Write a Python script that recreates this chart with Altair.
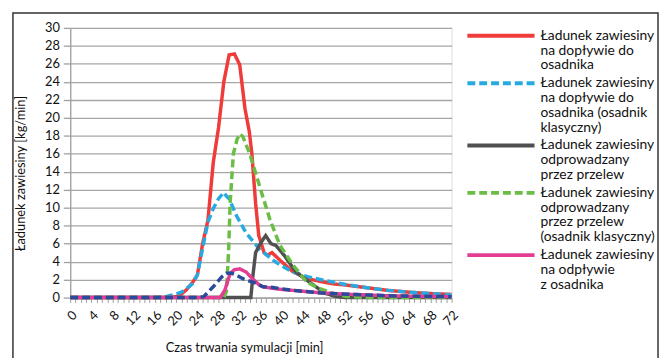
import altair as alt
import pandas as pd

# ---- data ----
labels = [
    "Ładunek zawiesiny\nna dopływie do\nosadnika",
    "Ładunek zawiesiny\nna dopływie do\nosadnika (osadnik\nklasyczny)",
    "Ładunek zawiesiny\nodprowadzany\nprzez przelew",
    "Ładunek zawiesiny\nodprowadzany\nprzez przelew\n(osadnik klasyczny)",
    "Ładunek zawiesiny\nna odpływie\nz osadnika",
]
colors = ["#EF3B39", "#27AAE1", "#505050", "#6ABD45", "#E33D94"]
dashes = [[1, 0], [8, 4], [1, 0], [8, 4], [1, 0]]

red_t = [0, 18, 20, 21, 22, 23, 24, 25, 26, 27, 28, 29, 30, 31, 32, 33, 33.8, 34.3, 35, 35.6, 36.6, 37.2, 38.1, 39.7, 42, 44, 46, 48, 50, 52, 56, 60, 64, 68, 72]
red_v = [0, 0, 0.1, 0.4, 0.9, 1.6, 2.5, 6.0, 8.6, 15.0, 18.9, 24.0, 27.0, 27.1, 25.9, 21.0, 18.5, 16.0, 10.5, 6.9, 5.0, 4.7, 5.0, 4.1, 2.9, 2.3, 1.95, 1.7, 1.5, 1.4, 1.1, 0.8, 0.6, 0.45, 0.35]

lblue_t = [0, 16, 18, 20, 21, 22, 23, 24, 25, 26, 27, 28, 29, 29.5, 30, 31.4, 33.2, 35.7, 38.8, 41.9, 45, 49.4, 52, 56, 60, 64, 68, 72]
lblue_v = [0, 0, 0.1, 0.4, 0.6, 1.0, 1.5, 2.5, 5.5, 8.4, 9.9, 11.0, 11.7, 11.3, 11.0, 9.1, 7.2, 5.4, 3.95, 2.85, 2.3, 1.75, 1.45, 1.1, 0.8, 0.6, 0.45, 0.3]

gray_t = [0, 34.1, 34.5, 35, 36, 36.9, 37.9, 38.8, 40.4, 42.6, 45.1, 46.4, 48, 50, 52, 72]
gray_v = [0, 0, 2.5, 5.0, 6.1, 6.9, 6.0, 5.8, 4.7, 2.85, 1.75, 1.2, 0.5, 0.15, 0, 0]

green_t = [0, 29, 29.5, 29.9, 30.2, 30.8, 31.5, 32, 32.6, 33.9, 35.8, 37.7, 39.6, 42.1, 44.6, 47.1, 49.6, 52, 56, 72]
green_v = [0, 0, 0.7, 5.1, 10.6, 16.0, 17.6, 18.2, 17.9, 16.0, 12.3, 8.7, 5.8, 3.6, 1.75, 1.0, 0.47, 0.15, 0, 0]

pink_t = [0, 28.3, 29.2, 30.2, 31, 32, 33.2, 34.4, 35.7, 36.4, 38, 40, 42, 44, 48, 52, 56, 60, 64, 68, 72]
pink_v = [0, 0, 0.84, 2.7, 3.1, 3.2, 2.85, 2.1, 1.4, 1.2, 1.05, 0.9, 0.8, 0.7, 0.5, 0.38, 0.3, 0.2, 0.15, 0.12, 0.1]

dblue_t = [0, 24, 25.2, 26, 27, 28, 28.6, 29.5, 30.5, 31.4, 32.6, 33.3, 34, 35.1, 36.4, 38.3, 40, 41.9, 44, 47.6, 49.4, 53.8, 60, 64, 68, 72]
dblue_v = [0, 0, 0.1, 0.6, 1.2, 1.9, 2.3, 2.7, 2.7, 2.5, 2.1, 1.94, 1.8, 1.6, 1.2, 1.13, 0.95, 0.83, 0.7, 0.5, 0.45, 0.35, 0.2, 0.17, 0.13, 0.1]
dblue_color = "#2A4B9B"

x_title = "Czas trwania symulacji [min]"
y_title = "Ładunek zawiesiny [kg/min]"

series = [(red_t, red_v), (lblue_t, lblue_v), (gray_t, gray_v), (green_t, green_v), (pink_t, pink_v)]

FONT = "Lato"
W, H = 386, 273
TOTAL_W, TOTAL_H = 660, 350

rows = []
for lab, (ts, vs) in zip(labels, series):
    for i, (t, v) in enumerate(zip(ts, vs)):
        rows.append({"series": lab, "t": t, "v": v, "o": i})
df = pd.DataFrame(rows)
df_db = pd.DataFrame({"t": dblue_t, "v": dblue_v, "o": list(range(len(dblue_t)))})

x_enc = alt.X(
    "t:Q",
    scale=alt.Scale(domain=[0, 72], nice=False, zero=False),
    axis=alt.Axis(
        title=x_title,
        values=list(range(0, 73)),
        labelExpr="datum.value % 4 === 0 ? datum.label : ''",
        labelOverlap=False,
        labelAngle=-45,
        labelFont=FONT, labelFontSize=13, labelColor="#111", labelPadding=6,
        tickColor="#A0A0A0", tickSize=5, tickWidth=1,
        domainColor="#A0A0A0", domainWidth=1.3,
        grid=False,
        titleFont=FONT, titleFontSize=13, titleFontWeight="normal", titleColor="#111",
        titleX=176, titleY=55, titleBaseline="alphabetic",
    ),
)
y_enc = alt.Y(
    "v:Q",
    scale=alt.Scale(domain=[0, 30], nice=False),
    axis=alt.Axis(
        title=y_title,
        values=list(range(0, 31, 2)),
        labelFont=FONT, labelFontSize=13, labelColor="#111", labelPadding=4,
        tickColor="#A0A0A0", tickSize=7, tickWidth=1.3,
        domainColor="#A0A0A0", domainWidth=1.3,
        grid=True, gridColor="#A6A6A6", gridWidth=1.3,
        titleFont=FONT, titleFontSize=13, titleFontWeight="normal", titleColor="#111",
        titleX=-50, titleY=147, titleBaseline="middle", titleAngle=-90,
    ),
)

color_enc = alt.Color(
    "series:N",
    scale=alt.Scale(domain=labels, range=colors),
    legend=alt.Legend(
        title=None,
        orient="none", legendX=429, legendY=1,
        symbolType="M-8.5,0H8.5", symbolSize=64, symbolStrokeWidth=4,
        labelFont=FONT, labelFontSize=14, labelColor="#111",
        labelExpr="split(datum.label, '\\n')",
        labelLimit=300, labelOffset=33, rowPadding=3,
        labelBaseline="middle",
    ),
)
dash_enc = alt.StrokeDash(
    "series:N",
    scale=alt.Scale(domain=labels, range=dashes),
    legend=None,
)

base = alt.Chart(df)
layers = []
for lab in labels:
    layers.append(
        base.transform_filter(alt.datum.series == lab)
        .mark_line(strokeWidth=3.5)
        .encode(x=x_enc, y=y_enc, color=color_enc, strokeDash=dash_enc, order="o:Q")
    )
db_layer = alt.Chart(df_db).mark_line(strokeWidth=3.5, color=dblue_color, strokeDash=[8, 4]).encode(
    x=x_enc, y=y_enc, order="o:Q"
)
frame = alt.Chart(alt.Data(values=[{"k": 1}])).mark_rect(
    fill="transparent", stroke="#333333", strokeWidth=1.5
).encode(x=alt.value(-58), x2=alt.value(595), y=alt.value(-15), y2=alt.value(345))

chart = (
    alt.layer(frame, *layers, db_layer)
    .properties(
        width=W, height=H,
        autosize=alt.AutoSizeParams(type="none"),
        padding={"left": 63, "top": 18, "right": TOTAL_W - 63 - W, "bottom": TOTAL_H - 18 - H},
        background="white",
    )
    .configure_view(stroke=None)
    .configure(style={"guide-label": {"lineHeight": 15}})
)

chart.save("out.html", embed_options={"renderer": "svg", "actions": False})
